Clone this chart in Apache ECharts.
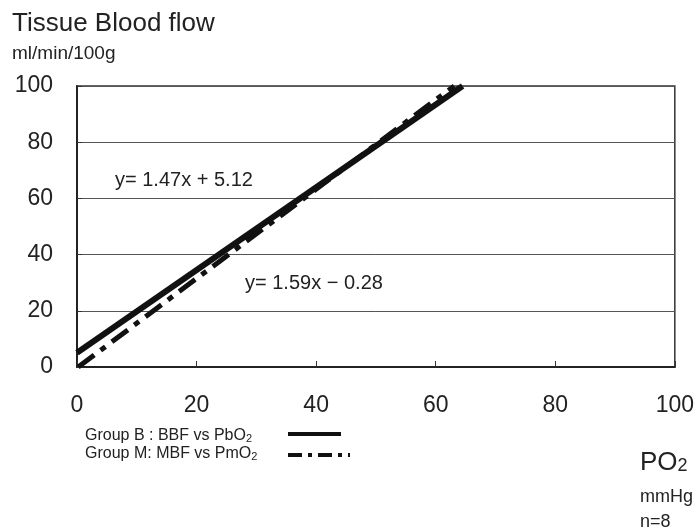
<!DOCTYPE html>
<html>
<head>
<meta charset="utf-8">
<script src="https://cdn.jsdelivr.net/npm/echarts@6/dist/echarts.min.js"></script>
<style>
  html, body { margin: 0; padding: 0; background: #fff; }
  #chart { width: 697px; height: 530px; }
</style>
</head>
<body>
<div id="chart"></div>
<script>
// ---- data ----
var xTicks = [0, 20, 40, 60, 80, 100];
var yTicks = [0, 20, 40, 60, 80, 100];
// regression line end points [PO2, flow]
var groupB = [[0, 5.1], [64.5, 100]];   // y = 1.47x + 5.12
var groupM = [[0.2, 0], [63.1, 100]];   // y = 1.59x - 0.28

var FONT = "'Liberation Sans', Arial, sans-serif";

var chart = echarts.init(document.getElementById("chart"), null, { renderer: "canvas" });

// subscript style (the "2" in O2)
function subRich(size, subSize, pad) {
  return {
    a: { font: size + "px " + FONT, fill: "#222" },
    s: { font: subSize + "px " + FONT, fill: "#222", padding: [pad, 0, 0, 0] }
  };
}

chart.setOption({
  animation: false,
  backgroundColor: "#fff",
  grid: { left: 77, right: 21, top: 86, bottom: 163, show: true, borderColor: "#333", borderWidth: 1.5 },
  xAxis: {
    type: "value", min: xTicks[0], max: xTicks[xTicks.length - 1], interval: 20,
    axisLine: { lineStyle: { color: "#222", width: 2 } },
    axisTick: { inside: true, length: 6, lineStyle: { color: "#333" } },
    splitLine: { show: false },
    axisLabel: { color: "#222", fontSize: 23, fontFamily: FONT, margin: 27 }
  },
  yAxis: {
    type: "value", min: yTicks[0], max: yTicks[yTicks.length - 1], interval: 20,
    axisLine: { show: true, lineStyle: { color: "#222", width: 2 } },
    axisTick: { show: true, inside: true, length: 5, lineStyle: { color: "#333" } },
    splitLine: { lineStyle: { color: "#555", width: 1 } },
    axisLabel: { color: "#222", fontSize: 23, fontFamily: FONT, margin: 24 }
  },
  series: [
    {
      name: "Group B", type: "line", data: groupB, symbol: "none", clip: true,
      lineStyle: { color: "#111", width: 6, cap: "butt" }
    },
    {
      name: "Group M", type: "line", data: groupM, symbol: "none", clip: true,
      lineStyle: { color: "#111", width: 5, type: [20, 8, 6, 8], cap: "butt" }
    }
  ],
  graphic: [
    { type: "text", left: 12, top: 11, style: { text: "Tissue Blood flow", font: "26px " + FONT, fill: "#222" } },
    { type: "text", left: 12, top: 44, style: { text: "ml/min/100g", font: "19px " + FONT, fill: "#222" } },
    { type: "text", left: 115, top: 170, style: { text: "y= 1.47x + 5.12", font: "20px " + FONT, fill: "#222" } },
    { type: "text", left: 245, top: 273, style: { text: "y= 1.59x \u2212 0.28", font: "20px " + FONT, fill: "#222" } },
    // legend
    { type: "text", left: 85, top: 428, style: { rich: subRich(16, 11, 6), text: "{a|Group B : BBF vs PbO}{s|2}" } },
    { type: "text", left: 85, top: 446, style: { rich: subRich(16, 11, 6), text: "{a|Group M: MBF vs PmO}{s|2}" } },
    { type: "line", shape: { x1: 288, y1: 434, x2: 341, y2: 434 }, style: { stroke: "#111", lineWidth: 4 } },
    { type: "line", shape: { x1: 288, y1: 455, x2: 350, y2: 455 }, style: { stroke: "#111", lineWidth: 4, lineDash: [14, 6, 4, 6] } },
    // x axis title
    { type: "text", left: 640, top: 450, style: { rich: subRich(26, 18, 7), text: "{a|PO}{s|2}" } },
    { type: "text", left: 640, top: 488, style: { text: "mmHg", font: "18px " + FONT, fill: "#222" } },
    { type: "text", left: 640, top: 513, style: { text: "n=8", font: "18px " + FONT, fill: "#222" } }
  ]
});
</script>
</body>
</html>
